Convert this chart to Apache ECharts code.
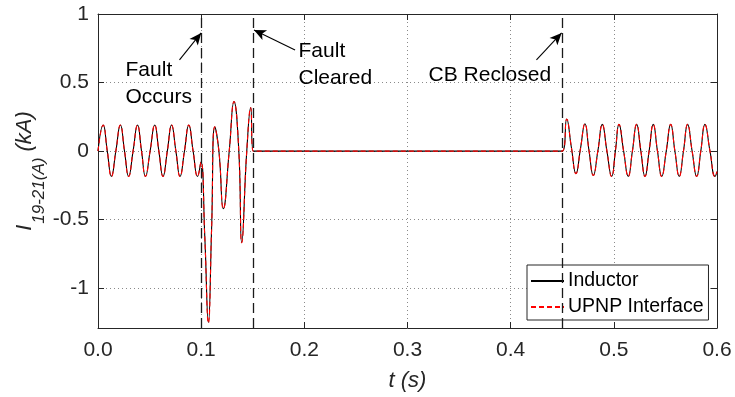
<!DOCTYPE html>
<html>
<head>
<meta charset="utf-8">
<title>Line current I19-21(A)</title>
<script src="https://cdn.jsdelivr.net/npm/echarts@6/dist/echarts.min.js"></script>
<style>
  html, body { margin: 0; padding: 0; background: #fff; }
  #chart { width: 735px; height: 397px; }
</style>
</head>
<body>
<div id="chart"></div>
<script>
// Sample instants (s): peaks, troughs and zero crossings of the current
const timeS = [
  0.0000, 0.0050, 0.0090, 0.0130, 0.0173, 0.0217, 0.0257, 0.0297, 0.0340, 0.0383,
  0.0422, 0.0460, 0.0505, 0.0550, 0.0590, 0.0630, 0.0672, 0.0713, 0.0755, 0.0795,
  0.0838, 0.0880, 0.0922, 0.0965, 0.0998, 0.1035, 0.1070, 0.1101, 0.1132, 0.1172,
  0.1215, 0.1272, 0.1318, 0.1365, 0.1393, 0.1442, 0.1480, 0.1505, 0.4500, 0.4543,
  0.4588, 0.4633, 0.4677, 0.4720, 0.4760, 0.4801, 0.4845, 0.4888, 0.4933, 0.4979,
  0.5015, 0.5050, 0.5095, 0.5140, 0.5180, 0.5221, 0.5262, 0.5302, 0.5342, 0.5382,
  0.5423, 0.5464, 0.5508, 0.5551, 0.5592, 0.5634, 0.5675, 0.5715, 0.5759, 0.5803,
  0.5843, 0.5883, 0.5932, 0.5981, 0.6000
];

// Inductor branch current (kA)
const inductorKA = [
  0.000, 0.190, 0.000, -0.185, 0.000, 0.190, 0.000, -0.185, 0.000, 0.190,
  0.000, -0.185, 0.000, 0.190, 0.000, -0.185, 0.000, 0.190, 0.000, -0.185,
  0.000, 0.190, 0.000, -0.185, -0.080, -0.620, -1.250, -0.570, 0.178, 0.000,
  -0.420, 0.000, 0.362, 0.000, -0.668, 0.000, 0.318, 0.000, 0.000, 0.234,
  0.030, -0.164, 0.020, 0.200, 0.000, -0.178, 0.000, 0.195, 0.000, -0.185,
  0.000, 0.195, 0.000, -0.185, 0.000, 0.195, 0.000, -0.185, 0.000, 0.195,
  0.000, -0.185, 0.000, 0.195, 0.000, -0.185, 0.000, 0.195, 0.000, -0.185,
  0.000, 0.195, 0.000, -0.185, -0.150
];

// UPNP interface current (kA)
const upnpKA = [
  0.000, 0.190, 0.000, -0.185, 0.000, 0.190, 0.000, -0.185, 0.000, 0.190,
  0.000, -0.185, 0.000, 0.190, 0.000, -0.185, 0.000, 0.190, 0.000, -0.185,
  0.000, 0.190, 0.000, -0.185, -0.080, -0.630, -1.255, -0.570, 0.178, 0.000,
  -0.420, 0.000, 0.362, 0.000, -0.668, 0.000, 0.318, 0.000, 0.000, 0.234,
  0.030, -0.164, 0.020, 0.200, 0.000, -0.178, 0.000, 0.195, 0.000, -0.185,
  0.000, 0.195, 0.000, -0.185, 0.000, 0.195, 0.000, -0.185, 0.000, 0.195,
  0.000, -0.185, 0.000, 0.195, 0.000, -0.185, 0.000, 0.195, 0.000, -0.185,
  0.000, 0.195, 0.000, -0.185, -0.150
];

// Axis ticks
const xTicks = [0, 0.1, 0.2, 0.3, 0.4, 0.5, 0.6];
const yTicks = [-1, -0.5, 0, 0.5, 1];

// Switching events (s) and their notes
const eventTimes = [0.1, 0.15, 0.45];
const eventNotes = ['Fault\nOccurs', 'Fault\nCleared', 'CB Reclosed'];

const FONT = 'Liberation Sans, Arial, Helvetica, sans-serif';
const AXIS_COLOR = '#262626';

const chart = echarts.init(document.getElementById('chart'), null, { renderer: 'canvas' });

const toPairs = (ys) => timeS.map((t, i) => [t, ys[i]]);

// Note text anchors (left edge, vertical middle) and arrow tail -> tip, in data units
const noteAnchors = [[0.0262, 0.495], [0.1939, 0.633], [0.3199, 0.556]];
const arrowPairs = [
  [[0.0790, 0.665], [0.1000, 0.862]],
  [[0.1910, 0.738], [0.1512, 0.884]],
  [[0.4250, 0.665], [0.4494, 0.862]]
];

const onTick = (list, v) => list.some((t) => Math.abs(t - v) < 1e-6);

const boxTick = { show: true, inside: true, length: 6, lineStyle: { color: AXIS_COLOR } };
const gridLine = { show: true, lineStyle: { type: [1, 3], color: '#8a8a8a', width: 1 } };

const option = {
  animation: false,
  backgroundColor: '#fff',
  textStyle: { fontFamily: FONT },
  grid: { left: 98, right: 18, top: 14, bottom: 69 },
  legend: {
    data: ['Inductor', 'UPNP Interface'],
    orient: 'vertical',
    left: 527,
    top: 265,
    padding: [6, 5, 3, 3],
    itemGap: 6,
    itemWidth: 33,
    itemHeight: 14,
    backgroundColor: '#fff',
    borderColor: AXIS_COLOR,
    borderWidth: 1,
    borderRadius: 0,
    itemStyle: { opacity: 0 },
    textStyle: { fontFamily: FONT, fontSize: 19.5, color: '#000', padding: [0, 0, 0, -1] }
  },
  xAxis: [
    {
      type: 'value',
      min: 0, max: 0.6, interval: 0.1,
      name: 't (s)',
      nameLocation: 'middle',
      nameGap: 42,
      nameMoveOverlap: false,
      nameTextStyle: { fontFamily: FONT, fontSize: 22, fontStyle: 'italic', color: AXIS_COLOR },
      axisLine: { show: true, onZero: false, lineStyle: { color: AXIS_COLOR, width: 1 } },
      axisTick: boxTick,
      axisLabel: {
        margin: 12, fontSize: 21, color: AXIS_COLOR, fontFamily: FONT,
        formatter: (v) => (onTick(xTicks, v) ? v.toFixed(1) : '')
      },
      splitLine: gridLine
    },
    {
      type: 'value', position: 'top',
      min: 0, max: 0.6, interval: 0.1,
      axisLine: { show: true, onZero: false, lineStyle: { color: AXIS_COLOR, width: 1 } },
      axisTick: boxTick,
      axisLabel: { show: false },
      splitLine: { show: false }
    }
  ],
  yAxis: [
    {
      type: 'value',
      min: -1.29, max: 1,
      name: '{i|I}{s|19-21(A)}{u| (kA)}',
      nameLocation: 'middle',
      nameRotate: 90,
      nameGap: 50,
      nameMoveOverlap: false,
      nameTextStyle: {
        color: AXIS_COLOR,
        rich: {
          i: { fontFamily: FONT, fontSize: 22, fontStyle: 'italic', color: AXIS_COLOR },
          s: { fontFamily: FONT, fontSize: 17, fontStyle: 'italic', color: AXIS_COLOR, padding: [30, 0, 0, 1] },
          u: { fontFamily: FONT, fontSize: 22, fontStyle: 'italic', color: AXIS_COLOR }
        }
      },
      axisLine: { show: true, onZero: false, lineStyle: { color: AXIS_COLOR, width: 1 } },
      axisTick: Object.assign({}, boxTick, { customValues: yTicks }),
      axisLabel: {
        margin: 9, fontSize: 21, color: AXIS_COLOR, fontFamily: FONT,
        customValues: yTicks,
        formatter: (v) => String(Math.round(v * 10) / 10)
      },
      splitLine: gridLine
    },
    {
      type: 'value', position: 'right',
      min: -1.29, max: 1,
      axisLine: { show: true, onZero: false, lineStyle: { color: AXIS_COLOR, width: 1 } },
      axisTick: Object.assign({}, boxTick, { customValues: yTicks }),
      axisLabel: { show: false, customValues: yTicks },
      splitLine: { show: false }
    }
  ],
  series: [
    {
      name: 'Inductor',
      type: 'line',
      data: toPairs(inductorKA),
      smooth: 0.5,
      symbol: 'none',
      lineStyle: { color: '#000', width: 1.1 },
      itemStyle: { color: '#000' },
      z: 3,
      markLine: {
        silent: true,
        symbol: ['none', 'none'],
        label: { show: false },
        lineStyle: { color: '#1a1a1a', type: [10, 5], width: 1.3 },
        data: eventTimes.map((t) => ({ xAxis: t }))
      }
    },
    {
      name: 'UPNP Interface',
      type: 'line',
      data: toPairs(upnpKA),
      smooth: 0.5,
      symbol: 'none',
      lineStyle: { color: '#ff0000', width: 1.1, type: [5, 3] },
      itemStyle: { color: '#ff0000' },
      z: 4
    },
    {
      // event notes and pointer arrows
      name: 'notes',
      type: 'line',
      data: [],
      silent: true,
      z: 5,
      markLine: {
        silent: true,
        symbol: ['none', 'arrow'],
        symbolSize: [8, 12],
        label: { show: false },
        lineStyle: { color: '#000', type: 'solid', width: 1.1 },
        data: arrowPairs.map((p) => [{ coord: p[0] }, { coord: p[1] }])
      },
      markPoint: {
        silent: true,
        symbol: 'circle',
        symbolSize: 1,
        itemStyle: { color: 'rgba(0,0,0,0)' },
        label: {
          show: true,
          position: 'right',
          distance: 0,
          align: 'left',
          fontFamily: FONT,
          fontSize: 21,
          lineHeight: 27,
          color: '#000'
        },
        data: noteAnchors.map((c, i) => ({ coord: c, value: 0, label: { formatter: eventNotes[i] } }))
      }
    }
  ]
};

chart.setOption(option);
</script>
</body>
</html>
